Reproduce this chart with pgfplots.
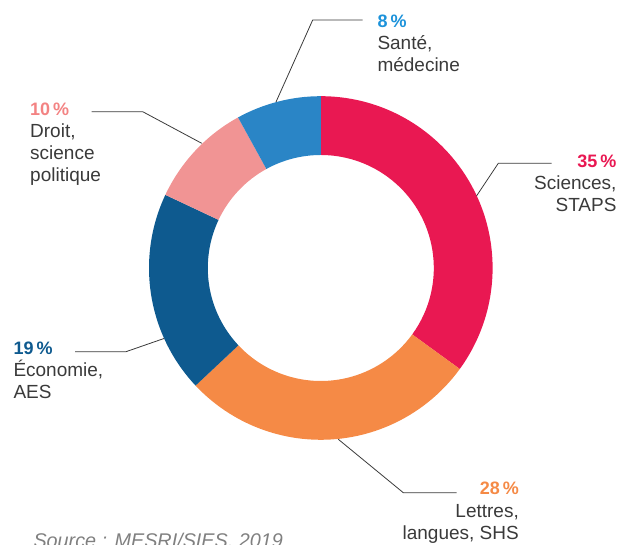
\documentclass[border=0pt]{standalone}
\usepackage{pgfplots}
\pgfplotsset{compat=1.18}
\usepackage{pgfplotstable}
\usepackage{fontspec}
\setmainfont{Liberation Sans}

\definecolor{csci}{HTML}{E91852}
\definecolor{clet}{HTML}{F58A46}
\definecolor{ceco}{HTML}{0E5A8F}
\definecolor{cdro}{HTML}{F19494}
\definecolor{csan}{HTML}{2A85C6}
\definecolor{tsan}{HTML}{1C92DA}
\definecolor{tdro}{HTML}{F38383}
\definecolor{lab}{HTML}{3A3A3A}
\definecolor{src}{HTML}{808080}

\newcommand\pctfont{\fontsize{18pt}{22pt}\selectfont\bfseries}
\newcommand\labfont{\fontsize{19pt}{22pt}\selectfont}

% share of students, clockwise from the top
\pgfplotstableread{
share col
35 csci
28 clet
19 ceco
10 cdro
8  csan
}\parts

\begin{document}
\begin{tikzpicture}
\begin{axis}[hide axis, scale only axis, x=1pt, y=1pt,
  xmin=-320.8, xmax=300.2, ymin=-277, ymax=268,
  enlargelimits=false, clip=false]

\def\aStart{90}
\pgfplotsforeachungrouped \k in {0,...,4}{%
  \pgfplotstablegetelem{\k}{share}\of\parts \let\val\pgfplotsretval
  \pgfplotstablegetelem{\k}{col}\of\parts \let\col\pgfplotsretval
  \pgfmathsetmacro\aEnd{\aStart-3.6*\val}
  \pgfmathsetmacro\xo{171.8*cos(\aStart)}
  \pgfmathsetmacro\yo{171.8*sin(\aStart)}
  \pgfmathsetmacro\xin{113*cos(\aEnd)}
  \pgfmathsetmacro\yin{113*sin(\aEnd)}
  \edef\temp{\noexpand\fill[\col] (axis cs:\xo,\yo)
    arc[start angle=\aStart, end angle=\aEnd, radius=171.8pt]
    -- (axis cs:\xin,\yin)
    arc[start angle=\aEnd, end angle=\aStart, radius=113pt] -- cycle;}
  \temp
  \let\aStart\aEnd
}

% leader lines
\addplot[lab, line width=0.8pt] coordinates {(-44.8,166) (-8.1,248) (41.9,248)};
\addplot[lab, line width=0.8pt] coordinates {(-119.1,124.7) (-178.1,156.3) (-229.1,156.3)};
\addplot[lab, line width=0.8pt] coordinates {(155.7,72) (177.5,104.7) (230.9,104.7)};
\addplot[lab, line width=0.8pt] coordinates {(-156.8,-70.5) (-194.8,-83.7) (-245.8,-83.7)};
\addplot[lab, line width=0.8pt] coordinates {(17.5,-171.3) (82.5,-224.7) (135.9,-224.7)};

% labels
\node[anchor=base west, inner sep=0, font=\pctfont, text=tsan] at (axis cs:56.5,240) {8\,\%};
\node[anchor=base west, inner sep=0, font=\labfont, text=lab] at (axis cs:56.5,218) {Santé,};
\node[anchor=base west, inner sep=0, font=\labfont, text=lab] at (axis cs:56.5,196) {médecine};

\node[anchor=base west, inner sep=0, font=\pctfont, text=tdro] at (axis cs:-290.8,152.5) {10\,\%};
\node[anchor=base west, inner sep=0, font=\labfont, text=lab] at (axis cs:-290.8,130.5) {Droit,};
\node[anchor=base west, inner sep=0, font=\labfont, text=lab] at (axis cs:-290.8,108.5) {science};
\node[anchor=base west, inner sep=0, font=\labfont, text=lab] at (axis cs:-290.8,86.5) {politique};

\node[anchor=base east, inner sep=0, font=\pctfont, text=csci] at (axis cs:295.9,100.3) {35\,\%};
\node[anchor=base east, inner sep=0, font=\labfont, text=lab] at (axis cs:295.9,78.3) {Sciences,};
\node[anchor=base east, inner sep=0, font=\labfont, text=lab] at (axis cs:295.9,56.3) {STAPS};

\node[anchor=base west, inner sep=0, font=\pctfont, text=ceco] at (axis cs:-307.5,-87) {19\,\%};
\node[anchor=base west, inner sep=0, font=\labfont, text=lab] at (axis cs:-307.5,-109) {Économie,};
\node[anchor=base west, inner sep=0, font=\labfont, text=lab] at (axis cs:-307.5,-131) {AES};

\node[anchor=base east, inner sep=0, font=\pctfont, text=clet] at (axis cs:198.2,-227) {28\,\%};
\node[anchor=base east, inner sep=0, font=\labfont, text=lab] at (axis cs:198.2,-249.5) {Lettres,};
\node[anchor=base east, inner sep=0, font=\labfont, text=lab] at (axis cs:198.2,-271.5) {langues, SHS};

\node[anchor=base west, inner sep=0, font={\fontsize{19.8pt}{22pt}\selectfont\itshape}, text=src] at (axis cs:-287.5,-279.5) {Source : MESRI/SIES, 2019};
\end{axis}
\pgfresetboundingbox
\path[use as bounding box] (current axis.south west) rectangle (current axis.north east);
\end{tikzpicture}
\end{document}
